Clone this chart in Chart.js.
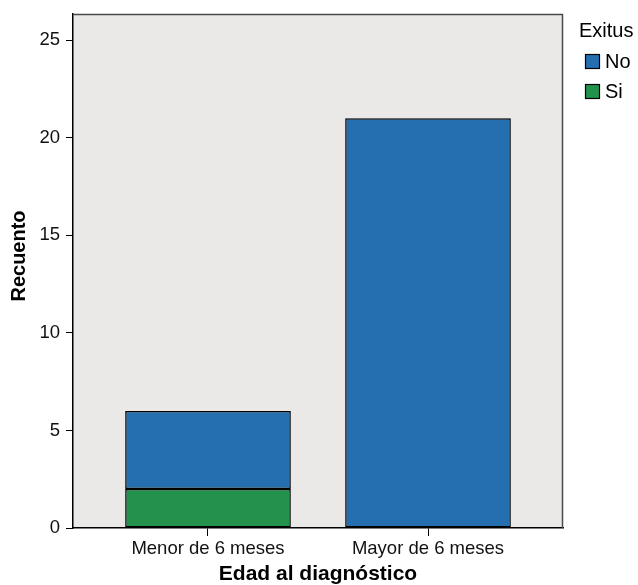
<!DOCTYPE html>
<html><head><meta charset="utf-8">
<script src="https://cdn.jsdelivr.net/npm/chart.js@4/dist/chart.umd.min.js"></script>
<style>html,body{margin:0;padding:0;background:#fff}</style>
</head><body>
<canvas id="c" width="638" height="585"></canvas>
<script>
const categories = ['Menor de 6 meses', 'Mayor de 6 meses'];
const noValues = [4, 21];
const siValues = [2, 0];
const seriesLabels = ['No', 'Si'];
const yTicks = [0, 5, 10, 15, 20, 25];
const yMax = 26.35;
const xTitle = 'Edad al diagnóstico';
const yTitle = 'Recuento';
const legendTitle = 'Exitus';

const FF = '"Liberation Sans", Arial, Helvetica, sans-serif';
const colNo = '#256EB0';
const colSi = '#22924C';

const plotBg = {
  id: 'plotBg',
  beforeDraw(chart) {
    const {ctx, chartArea: a} = chart;
    ctx.save();
    ctx.fillStyle = '#EBE9E7';
    ctx.fillRect(a.left, a.top, a.right - a.left, a.bottom - a.top);
    ctx.restore();
  }
};
const frame = {
  id: 'frame',
  afterDatasetsDraw(chart) {
    const {ctx, chartArea: a} = chart;
    ctx.save();
    ctx.strokeStyle = '#4a4a4a';
    ctx.lineWidth = 1.5;
    ctx.beginPath();
    ctx.moveTo(a.left, a.top + 0.5);
    ctx.lineTo(a.right - 0.5, a.top + 0.5);
    ctx.lineTo(a.right - 0.5, a.bottom);
    ctx.stroke();
    ctx.restore();
  }
};
const yTitlePlugin = {
  id: 'yTitle',
  afterDraw(chart) {
    const ctx = chart.ctx;
    ctx.save();
    ctx.translate(19, 256);
    ctx.rotate(-Math.PI / 2);
    ctx.textAlign = 'center';
    ctx.textBaseline = 'middle';
    ctx.font = 'bold 20px ' + FF;
    ctx.fillStyle = '#000';
    ctx.fillText(yTitle, 0, 0);
    ctx.restore();
  }
};
const sideLegend = {
  id: 'sideLegend',
  afterDraw(chart) {
    const ctx = chart.ctx;
    const a = chart.chartArea;
    const x0 = a.right + 16;
    ctx.save();
    ctx.font = '20px ' + FF;
    ctx.fillStyle = '#000';
    ctx.textAlign = 'left';
    ctx.textBaseline = 'alphabetic';
    ctx.fillText(legendTitle, x0, 37);
    const items = chart.data.datasets.slice().reverse();
    items.forEach((ds, i) => {
      const y = 54 + i * 30;
      ctx.fillStyle = ds.backgroundColor;
      ctx.fillRect(x0 + 6, y, 15, 15);
      ctx.strokeStyle = '#000';
      ctx.lineWidth = 1.2;
      ctx.strokeRect(x0 + 6.5, y + 0.5, 14, 14);
      ctx.fillStyle = '#000';
      ctx.textBaseline = 'middle';
      ctx.fillText(ds.label, x0 + 26, y + 8.5);
    });
    ctx.restore();
  }
};

const toPoints = arr => arr.map((v, i) => ({x: i, y: v}));

new Chart(document.getElementById('c'), {
  type: 'bar',
  data: {
    datasets: [
      {label: seriesLabels[1], data: toPoints(siValues), backgroundColor: colSi, borderColor: '#000', borderWidth: 1.5, borderSkipped: false},
      {label: seriesLabels[0], data: toPoints(noValues), backgroundColor: colNo, borderColor: '#000', borderWidth: 1.5, borderSkipped: false}
    ]
  },
  options: {
    responsive: false,
    devicePixelRatio: 1,
    animation: false,
    barPercentage: 0.753,
    categoryPercentage: 1,
    layout: {padding: {top: 14, right: 75, left: 0, bottom: 0}},
    plugins: {legend: {display: false}, tooltip: {enabled: false}},
    scales: {
      x: {
        type: 'linear',
        stacked: true,
        offset: false,
        min: -0.6136,
        max: 1.6136,
        afterBuildTicks: s => { s.ticks = categories.map((c, i) => ({value: i})); },
        afterFit: s => { s.height = 57; s.paddingLeft = 0; s.paddingRight = 0; },
        ticks: {callback: v => categories[v], font: {size: 18.5, family: FF}, color: '#111', padding: 2, autoSkip: false, maxRotation: 0},
        grid: {offset: false, drawOnChartArea: false, drawTicks: true, tickLength: 8, color: '#000'},
        border: {display: true, color: '#000', width: 1.5},
        title: {display: true, text: xTitle, font: {size: 21, weight: 'bold', family: FF, lineHeight: 1.0}, color: '#000', padding: {top: 0, bottom: 0}}
      },
      y: {
        stacked: true,
        min: 0,
        max: yMax,
        afterBuildTicks: s => { s.ticks = yTicks.map(v => ({value: v})); },
        afterFit: s => { s.width = 73; s.paddingTop = 0; s.paddingBottom = 0; },
        ticks: {font: {size: 18.5, family: FF}, color: '#111', padding: 6},
        grid: {drawOnChartArea: false, drawTicks: true, tickLength: 7, color: '#000'},
        border: {display: true, color: '#000', width: 1.5}
      }
    }
  },
  plugins: [plotBg, frame, yTitlePlugin, sideLegend]
});
</script>
</body></html>
